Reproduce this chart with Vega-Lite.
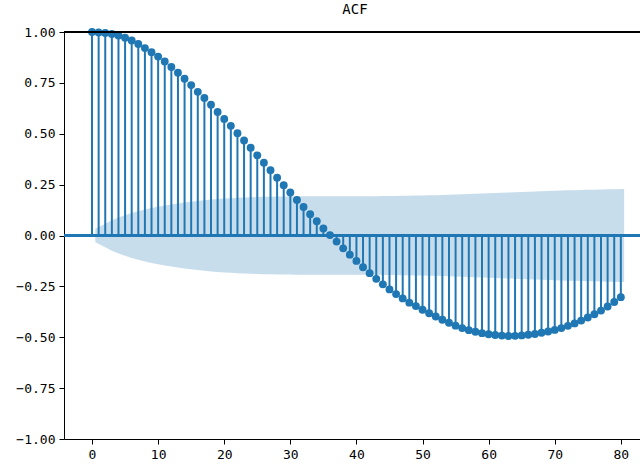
{
  "$schema": "https://vega.github.io/schema/vega-lite/v6.json",
  "autosize": {"type": "none"},
  "padding": {"left": 64, "top": 32, "right": 0, "bottom": 27},
  "width": 576,
  "height": 407,
  "title": {"text": "ACF", "font": "DejaVu Sans Mono", "fontSize": 14, "fontWeight": "normal", "color": "#000000", "anchor": "middle", "offset": 9, "dx": 3},
  "config": {
    "view": {"stroke": null},
    "axis": {
      "labelFont": "DejaVu Sans Mono",
      "labelFontSize": 13,
      "labelColor": "#000000",
      "domainColor": "#000000",
      "tickColor": "#000000",
      "domainWidth": 1,
      "tickWidth": 1,
      "tickSize": 5,
      "labelPadding": 4,
      "grid": false,
      "title": null
    }
  },
  "datasets": {
    "acf": [
      {"lag": 0, "acf": 1.0}, {"lag": 1, "acf": 0.998}, {"lag": 2, "acf": 0.995}, {"lag": 3, "acf": 0.99},
      {"lag": 4, "acf": 0.983}, {"lag": 5, "acf": 0.972}, {"lag": 6, "acf": 0.958}, {"lag": 7, "acf": 0.941},
      {"lag": 8, "acf": 0.921}, {"lag": 9, "acf": 0.901}, {"lag": 10, "acf": 0.879}, {"lag": 11, "acf": 0.855},
      {"lag": 12, "acf": 0.828}, {"lag": 13, "acf": 0.8}, {"lag": 14, "acf": 0.77}, {"lag": 15, "acf": 0.739},
      {"lag": 16, "acf": 0.706}, {"lag": 17, "acf": 0.676}, {"lag": 18, "acf": 0.643}, {"lag": 19, "acf": 0.607},
      {"lag": 20, "acf": 0.573}, {"lag": 21, "acf": 0.539}, {"lag": 22, "acf": 0.503}, {"lag": 23, "acf": 0.467},
      {"lag": 24, "acf": 0.431}, {"lag": 25, "acf": 0.394}, {"lag": 26, "acf": 0.358}, {"lag": 27, "acf": 0.321},
      {"lag": 28, "acf": 0.284}, {"lag": 29, "acf": 0.247}, {"lag": 30, "acf": 0.211}, {"lag": 31, "acf": 0.175},
      {"lag": 32, "acf": 0.14}, {"lag": 33, "acf": 0.105}, {"lag": 34, "acf": 0.07}, {"lag": 35, "acf": 0.035},
      {"lag": 36, "acf": 0.002}, {"lag": 37, "acf": -0.03}, {"lag": 38, "acf": -0.063}, {"lag": 39, "acf": -0.094},
      {"lag": 40, "acf": -0.125}, {"lag": 41, "acf": -0.156}, {"lag": 42, "acf": -0.185}, {"lag": 43, "acf": -0.213},
      {"lag": 44, "acf": -0.24}, {"lag": 45, "acf": -0.265}, {"lag": 46, "acf": -0.288}, {"lag": 47, "acf": -0.309},
      {"lag": 48, "acf": -0.33}, {"lag": 49, "acf": -0.347}, {"lag": 50, "acf": -0.365}, {"lag": 51, "acf": -0.382},
      {"lag": 52, "acf": -0.398}, {"lag": 53, "acf": -0.414}, {"lag": 54, "acf": -0.429}, {"lag": 55, "acf": -0.443},
      {"lag": 56, "acf": -0.455}, {"lag": 57, "acf": -0.465}, {"lag": 58, "acf": -0.473}, {"lag": 59, "acf": -0.48},
      {"lag": 60, "acf": -0.485}, {"lag": 61, "acf": -0.489}, {"lag": 62, "acf": -0.492}, {"lag": 63, "acf": -0.494},
      {"lag": 64, "acf": -0.493}, {"lag": 65, "acf": -0.491}, {"lag": 66, "acf": -0.488}, {"lag": 67, "acf": -0.484},
      {"lag": 68, "acf": -0.478}, {"lag": 69, "acf": -0.472}, {"lag": 70, "acf": -0.464}, {"lag": 71, "acf": -0.455},
      {"lag": 72, "acf": -0.444}, {"lag": 73, "acf": -0.432}, {"lag": 74, "acf": -0.418}, {"lag": 75, "acf": -0.403},
      {"lag": 76, "acf": -0.387}, {"lag": 77, "acf": -0.369}, {"lag": 78, "acf": -0.349}, {"lag": 79, "acf": -0.327},
      {"lag": 80, "acf": -0.303}
    ],
    "band": [
      {"lag": 0.5, "hi": 0.0336, "lo": -0.0336}, {"lag": 2, "hi": 0.0581, "lo": -0.0581}, {"lag": 3, "hi": 0.0749, "lo": -0.0749},
      {"lag": 4, "hi": 0.0885, "lo": -0.0885}, {"lag": 5, "hi": 0.1001, "lo": -0.1001}, {"lag": 6, "hi": 0.1102, "lo": -0.1102},
      {"lag": 7, "hi": 0.1192, "lo": -0.1192}, {"lag": 8, "hi": 0.1274, "lo": -0.1274}, {"lag": 9, "hi": 0.1347, "lo": -0.1347},
      {"lag": 10, "hi": 0.1413, "lo": -0.1413}, {"lag": 11, "hi": 0.1474, "lo": -0.1474}, {"lag": 12, "hi": 0.1529, "lo": -0.1529},
      {"lag": 13, "hi": 0.1578, "lo": -0.1578}, {"lag": 14, "hi": 0.1624, "lo": -0.1624}, {"lag": 15, "hi": 0.1664, "lo": -0.1664},
      {"lag": 16, "hi": 0.1701, "lo": -0.1701}, {"lag": 17, "hi": 0.1734, "lo": -0.1734}, {"lag": 18, "hi": 0.1763, "lo": -0.1763},
      {"lag": 19, "hi": 0.179, "lo": -0.179}, {"lag": 20, "hi": 0.1813, "lo": -0.1813}, {"lag": 21, "hi": 0.1833, "lo": -0.1833},
      {"lag": 22, "hi": 0.1851, "lo": -0.1851}, {"lag": 23, "hi": 0.1866, "lo": -0.1866}, {"lag": 24, "hi": 0.1879, "lo": -0.1879},
      {"lag": 25, "hi": 0.1891, "lo": -0.1891}, {"lag": 26, "hi": 0.19, "lo": -0.19}, {"lag": 27, "hi": 0.1907, "lo": -0.1907},
      {"lag": 28, "hi": 0.1914, "lo": -0.1914}, {"lag": 29, "hi": 0.1918, "lo": -0.1918}, {"lag": 30, "hi": 0.1922, "lo": -0.1922},
      {"lag": 31, "hi": 0.1925, "lo": -0.1925}, {"lag": 32, "hi": 0.1926, "lo": -0.1926}, {"lag": 33, "hi": 0.1927, "lo": -0.1927},
      {"lag": 34, "hi": 0.1928, "lo": -0.1928}, {"lag": 35, "hi": 0.1928, "lo": -0.1928}, {"lag": 36, "hi": 0.1928, "lo": -0.1928},
      {"lag": 37, "hi": 0.1928, "lo": -0.1928}, {"lag": 38, "hi": 0.1928, "lo": -0.1928}, {"lag": 39, "hi": 0.1929, "lo": -0.1929},
      {"lag": 40, "hi": 0.1929, "lo": -0.1929}, {"lag": 41, "hi": 0.193, "lo": -0.193}, {"lag": 42, "hi": 0.1932, "lo": -0.1932},
      {"lag": 43, "hi": 0.1934, "lo": -0.1934}, {"lag": 44, "hi": 0.1936, "lo": -0.1936}, {"lag": 45, "hi": 0.194, "lo": -0.194},
      {"lag": 46, "hi": 0.1944, "lo": -0.1944}, {"lag": 47, "hi": 0.1948, "lo": -0.1948}, {"lag": 48, "hi": 0.1954, "lo": -0.1954},
      {"lag": 49, "hi": 0.196, "lo": -0.196}, {"lag": 50, "hi": 0.1967, "lo": -0.1967}, {"lag": 51, "hi": 0.1975, "lo": -0.1975},
      {"lag": 52, "hi": 0.1983, "lo": -0.1983}, {"lag": 53, "hi": 0.1992, "lo": -0.1992}, {"lag": 54, "hi": 0.2002, "lo": -0.2002},
      {"lag": 55, "hi": 0.2012, "lo": -0.2012}, {"lag": 56, "hi": 0.2023, "lo": -0.2023}, {"lag": 57, "hi": 0.2035, "lo": -0.2035},
      {"lag": 58, "hi": 0.2047, "lo": -0.2047}, {"lag": 59, "hi": 0.2059, "lo": -0.2059}, {"lag": 60, "hi": 0.2071, "lo": -0.2071},
      {"lag": 61, "hi": 0.2084, "lo": -0.2084}, {"lag": 62, "hi": 0.2097, "lo": -0.2097}, {"lag": 63, "hi": 0.211, "lo": -0.211},
      {"lag": 64, "hi": 0.2123, "lo": -0.2123}, {"lag": 65, "hi": 0.2136, "lo": -0.2136}, {"lag": 66, "hi": 0.2149, "lo": -0.2149},
      {"lag": 67, "hi": 0.2161, "lo": -0.2161}, {"lag": 68, "hi": 0.2173, "lo": -0.2173}, {"lag": 69, "hi": 0.2185, "lo": -0.2185},
      {"lag": 70, "hi": 0.2197, "lo": -0.2197}, {"lag": 71, "hi": 0.2208, "lo": -0.2208}, {"lag": 72, "hi": 0.2218, "lo": -0.2218},
      {"lag": 73, "hi": 0.2228, "lo": -0.2228}, {"lag": 74, "hi": 0.2237, "lo": -0.2237}, {"lag": 75, "hi": 0.2246, "lo": -0.2246},
      {"lag": 76, "hi": 0.2254, "lo": -0.2254}, {"lag": 77, "hi": 0.2262, "lo": -0.2262}, {"lag": 78, "hi": 0.2269, "lo": -0.2269},
      {"lag": 79, "hi": 0.2275, "lo": -0.2275}, {"lag": 80.5, "hi": 0.228, "lo": -0.228}
    ]
  },
  "layer": [
    {
      "data": {"name": "acf"},
      "mark": {"type": "rule", "color": "#1f77b4", "strokeWidth": 2},
      "encoding": {
        "x": {"field": "lag", "type": "quantitative", "scale": {"domain": [-4.24, 82.9], "nice": false, "zero": false},
              "axis": {"values": [0, 10, 20, 30, 40, 50, 60, 70, 80], "format": "d"}},
        "y": {"field": "acf", "type": "quantitative", "scale": {"domain": [-1, 1], "nice": false},
              "axis": {"values": [-1, -0.75, -0.5, -0.25, 0, 0.25, 0.5, 0.75, 1], "format": ".2f"}},
        "y2": {"datum": 0}
      }
    },
    {
      "data": {"name": "acf"},
      "mark": {"type": "rule", "color": "#1f77b4", "strokeWidth": 2},
      "encoding": {"y": {"datum": 0, "type": "quantitative"}}
    },
    {
      "data": {"name": "acf"},
      "mark": {"type": "point", "shape": "circle", "filled": true, "color": "#1f77b4", "opacity": 1, "size": 62},
      "encoding": {
        "x": {"field": "lag", "type": "quantitative"},
        "y": {"field": "acf", "type": "quantitative"}
      }
    },
    {
      "data": {"name": "band"},
      "mark": {"type": "area", "color": "#1f77b4", "opacity": 0.25},
      "encoding": {
        "x": {"field": "lag", "type": "quantitative"},
        "y": {"field": "hi", "type": "quantitative"},
        "y2": {"field": "lo"}
      }
    },
    {
      "data": {"name": "acf"},
      "mark": {"type": "rule", "color": "#000000", "strokeWidth": 1},
      "encoding": {"y": {"datum": 1, "type": "quantitative"}}
    }
  ]
}
